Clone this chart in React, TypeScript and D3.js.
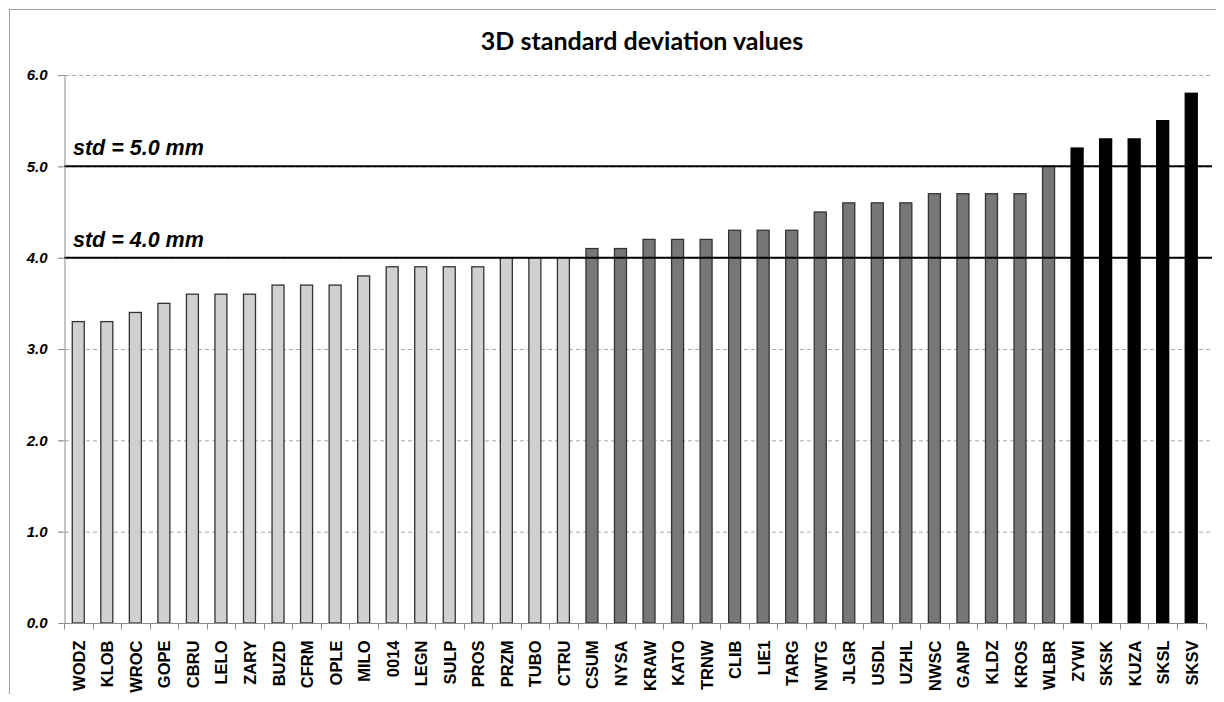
import React, { useEffect, useRef } from "react";
import * as d3 from "d3";

const stations = [
  "WODZ", "KLOB", "WROC", "GOPE", "CBRU", "LELO", "ZARY", "BUZD", "CFRM", "OPLE",
  "MILO", "0014", "LEGN", "SULP", "PROS", "PRZM", "TUBO", "CTRU",
  "CSUM", "NYSA", "KRAW", "KATO", "TRNW", "CLIB", "LIE1", "TARG", "NWTG", "JLGR",
  "USDL", "UZHL", "NWSC", "GANP", "KLDZ", "KROS", "WLBR",
  "ZYWI", "SKSK", "KUZA", "SKSL", "SKSV",
];
const stdValues = [
  3.3, 3.3, 3.4, 3.5, 3.6, 3.6, 3.6, 3.7, 3.7, 3.7,
  3.8, 3.9, 3.9, 3.9, 3.9, 4.0, 4.0, 4.0,
  4.1, 4.1, 4.2, 4.2, 4.2, 4.3, 4.3, 4.3, 4.5, 4.6,
  4.6, 4.6, 4.7, 4.7, 4.7, 4.7, 5.0,
  5.2, 5.3, 5.3, 5.5, 5.8,
];
const yTicks = [0, 1, 2, 3, 4, 5, 6];
const thresholds = [4.0, 5.0];

const W = 1224, H = 702;

const App = () => {
  const ref = useRef<SVGSVGElement>(null);

  useEffect(() => {
    const svg = d3.select(ref.current);
    svg.selectAll("*").remove();

    const margin = { top: 75, right: 18, bottom: 79, left: 64 };

    const x = d3.scaleBand<string>()
      .domain(stations)
      .range([margin.left, 1205.5])
      .paddingInner(0.58)
      .paddingOuter(0.29);

    const y = d3.scaleLinear()
      .domain([0, 6])
      .range([H - margin.bottom, margin.top]);

    const fillFor = (v: number) => (v > 5 ? "#000" : v > 4 ? "#777" : "#d0d0d0");

    // frame
    svg.append("rect")
      .attr("x", 9.5).attr("y", 9.5)
      .attr("width", 1209).attr("height", 700)
      .attr("fill", "#fff").attr("stroke", "#a0a0a0");

    svg.append("text")
      .attr("x", 642).attr("y", 50)
      .attr("text-anchor", "middle")
      .attr("font-family", "Lato, 'Open Sans', sans-serif")
      .attr("font-weight", "bold")
      .attr("font-size", 25)
      .text("3D standard deviation values");

    // grid
    svg.append("g")
      .selectAll("line")
      .data(yTicks.filter(t => t > 0))
      .join("line")
      .attr("x1", margin.left - 6).attr("x2", W - margin.right + 6)
      .attr("y1", d => y(d) + 0.5).attr("y2", d => y(d) + 0.5)
      .attr("stroke", "#a8a8a8")
      .attr("stroke-dasharray", "4,3");

    // bars
    svg.append("g")
      .selectAll("rect")
      .data(stdValues)
      .join("rect")
      .attr("x", (d, i) => x(stations[i])!)
      .attr("width", x.bandwidth())
      .attr("y", d => y(d))
      .attr("height", d => y(0) - y(d))
      .attr("fill", d => fillFor(d))
      .attr("stroke", d => (d > 5 ? "#000" : "#333"))
      .attr("stroke-width", 1.3);

    // threshold lines
    svg.append("g")
      .selectAll("line")
      .data(thresholds)
      .join("line")
      .attr("x1", margin.left).attr("x2", W - margin.right + 6)
      .attr("y1", d => y(d)).attr("y2", d => y(d))
      .attr("stroke", "#000")
      .attr("stroke-width", 2);

    svg.append("g")
      .selectAll("text")
      .data(thresholds)
      .join("text")
      .attr("x", 73)
      .attr("y", d => y(d) - 11)
      .attr("font-family", "'Liberation Sans', Arial, sans-serif")
      .attr("font-weight", "bold")
      .attr("font-style", "italic")
      .attr("font-size", 21.5)
      .text(d => `std = ${d.toFixed(1)} mm`);

    // y axis
    const yAxis = svg.append("g")
      .attr("transform", `translate(${margin.left + 0.5},0)`)
      .call(d3.axisLeft(y).tickValues(yTicks).tickFormat(d3.format(".1f")).tickSize(6).tickPadding(11));
    yAxis.select(".domain").attr("stroke", "#8c8c8c");
    yAxis.selectAll(".tick line").attr("stroke", "#8c8c8c");
    yAxis.selectAll("text")
      .attr("font-family", "'Liberation Sans', Arial, sans-serif")
      .attr("font-weight", "bold")
      .attr("font-style", "italic")
      .attr("font-size", 15)
      .attr("fill", "#000");

    // x axis
    const xAxis = svg.append("g")
      .attr("transform", `translate(0,${y(0) + 0.5})`);
    xAxis.append("line")
      .attr("x1", margin.left).attr("x2", x.range()[1])
      .attr("stroke", "#8c8c8c");
    const step = x.step();
    const bounds = d3.range(stations.length + 1).map(i => x.range()[0] + i * step);
    xAxis.selectAll("line.tk")
      .data(bounds)
      .join("line")
      .attr("class", "tk")
      .attr("x1", d => Math.round(d) + 0.5).attr("x2", d => Math.round(d) + 0.5)
      .attr("y1", 0).attr("y2", 6)
      .attr("stroke", "#8c8c8c");
    xAxis.selectAll("text")
      .data(stations)
      .join("text")
      .attr("transform", d => `translate(${x(d)! + x.bandwidth() / 2 + 6.5},17) rotate(-90)`)
      .attr("text-anchor", "end")
      .attr("font-family", "'Liberation Sans', Arial, sans-serif")
      .attr("font-weight", "bold")
      .attr("font-size", 16.5)
      .text(d => d);
  }, []);

  return <svg ref={ref} width={W} height={H} style={{ display: "block", margin: -8 }} />;
};

export default App;
